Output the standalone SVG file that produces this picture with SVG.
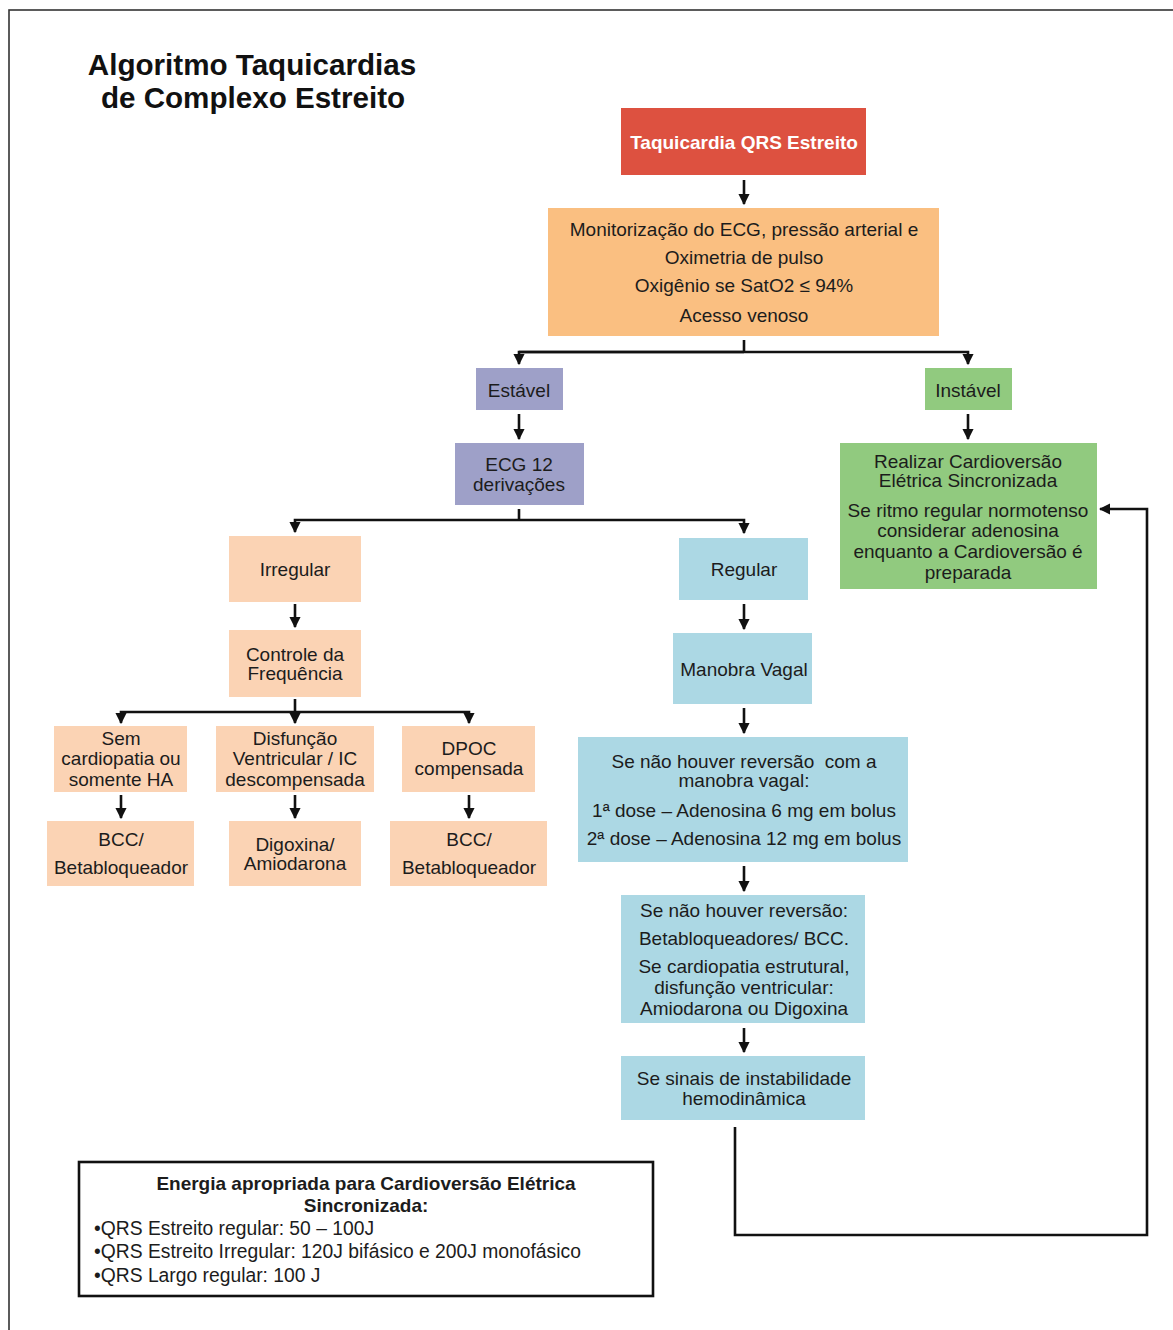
<svg xmlns="http://www.w3.org/2000/svg" width="1173" height="1330" viewBox="0 0 1173 1330">
  <style>
    text { font-family: "Liberation Sans", Arial, sans-serif; font-size: 19px; fill: #1c1c1c; text-anchor: middle; }
    .title { font-size: 29.6px; font-weight: bold; fill: #111; }
    .white { fill: #ffffff; font-weight: bold; }
    .bold { font-weight: bold; }
    .left { text-anchor: start; font-size: 19.3px; }
    .red { fill: #dd5140; }
    .orange { fill: #fabf81; }
    .lav { fill: #9ea0c8; }
    .green { fill: #91ca7f; }
    .peach { fill: #fbd3b4; }
    .blue { fill: #acd8e4; }
    .wire { fill: none; stroke: #111; stroke-width: 2.6; }
    .arrow { fill: none; stroke: #111; stroke-width: 2.6; marker-end: url(#head); }
  </style>
  <defs>
    <marker id="head" viewBox="0 0 10 10" refX="9" refY="5" markerWidth="4.4" markerHeight="4.4" orient="auto" markerUnits="strokeWidth">
      <path d="M0,0 L10,5 L0,10 Z" fill="#111"/>
    </marker>
  </defs>

  <rect x="0" y="0" width="1173" height="1330" fill="#ffffff"/>
  <!-- page frame -->
  <rect x="9" y="10" width="1180" height="1340" fill="none" stroke="#333" stroke-width="1.6"/>

  <g id="title">
    <text class="title" x="252" y="75">Algoritmo Taquicardias</text>
    <text class="title" x="253" y="108">de Complexo Estreito</text>
  </g>

  <g id="connectors">
    <line class="arrow" x1="744" y1="180" x2="744" y2="204"/>
    <polyline class="wire" points="744,340 744,352"/>
    <polyline class="arrow" points="519,352 968,352 968,364"/>
    <polyline class="arrow" points="744,352 519,352 519,364"/>
    <line class="arrow" x1="519" y1="414" x2="519" y2="439"/>
    <line class="arrow" x1="968" y1="414" x2="968" y2="439"/>
    <polyline class="wire" points="519,509 519,520"/>
    <polyline class="arrow" points="519,520 295,520 295,532"/>
    <polyline class="arrow" points="519,520 744,520 744,533"/>
    <line class="arrow" x1="295" y1="604" x2="295" y2="627"/>
    <line class="arrow" x1="744" y1="604" x2="744" y2="629"/>
    <line class="wire" x1="295" y1="699" x2="295" y2="712"/>
    <polyline class="arrow" points="295,712 121,712 121,723"/>
    <polyline class="arrow" points="295,712 469,712 469,723"/>
    <line class="arrow" x1="295" y1="712" x2="295" y2="723"/>
    <line class="arrow" x1="121" y1="795" x2="121" y2="818"/>
    <line class="arrow" x1="295" y1="795" x2="295" y2="818"/>
    <line class="arrow" x1="469" y1="795" x2="469" y2="818"/>
    <line class="arrow" x1="744" y1="708" x2="744" y2="733"/>
    <line class="arrow" x1="744" y1="866" x2="744" y2="891"/>
    <line class="arrow" x1="744" y1="1028" x2="744" y2="1052"/>
    <polyline class="arrow" points="735,1127 735,1235 1147,1235 1147,509 1100,509"/>
  </g>

  <g id="n-taquicardia">
    <rect class="red" x="621" y="108" width="245" height="67"/>
    <text class="white" x="744" y="149">Taquicardia QRS Estreito</text>
  </g>

  <g id="n-monitorizacao">
    <rect class="orange" x="548" y="208" width="391" height="128"/>
    <text x="744" y="236">Monitorização do ECG, pressão arterial e</text>
    <text x="744" y="264">Oximetria de pulso</text>
    <text x="744" y="292">Oxigênio se SatO2 ≤ 94%</text>
    <text x="744" y="322">Acesso venoso</text>
  </g>

  <g id="n-estavel">
    <rect class="lav" x="476" y="368" width="87" height="42"/>
    <text x="519" y="397">Estável</text>
  </g>

  <g id="n-instavel">
    <rect class="green" x="925" y="368" width="87" height="42"/>
    <text x="968" y="397">Instável</text>
  </g>

  <g id="n-ecg">
    <rect class="lav" x="455" y="443" width="129" height="62"/>
    <text x="519" y="471">ECG 12</text>
    <text x="519" y="491">derivações</text>
  </g>

  <g id="n-cardioversao">
    <rect class="green" x="840" y="443" width="257" height="146"/>
    <text x="968" y="468">Realizar Cardioversão</text>
    <text x="968" y="487">Elétrica Sincronizada</text>
    <text x="968" y="517">Se ritmo regular normotenso</text>
    <text x="968" y="537">considerar adenosina</text>
    <text x="968" y="558">enquanto a Cardioversão é</text>
    <text x="968" y="579">preparada</text>
  </g>

  <g id="n-irregular">
    <rect class="peach" x="229" y="536" width="132" height="66"/>
    <text x="295" y="576">Irregular</text>
  </g>

  <g id="n-regular">
    <rect class="blue" x="679" y="538" width="129" height="62"/>
    <text x="744" y="576">Regular</text>
  </g>

  <g id="n-controle">
    <rect class="peach" x="229" y="630" width="132" height="67"/>
    <text x="295" y="661">Controle da</text>
    <text x="295" y="680">Frequência</text>
  </g>

  <g id="n-sem-cardiopatia">
    <rect class="peach" x="54" y="726" width="133" height="66"/>
    <text x="121" y="745">Sem</text>
    <text x="121" y="765">cardiopatia ou</text>
    <text x="121" y="786">somente HA</text>
  </g>

  <g id="n-disfuncao">
    <rect class="peach" x="216" y="726" width="158" height="66"/>
    <text x="295" y="745">Disfunção</text>
    <text x="295" y="765">Ventricular / IC</text>
    <text x="295" y="786">descompensada</text>
  </g>

  <g id="n-dpoc">
    <rect class="peach" x="402" y="726" width="133" height="66"/>
    <text x="469" y="755">DPOC</text>
    <text x="469" y="775">compensada</text>
  </g>

  <g id="n-bcc-1">
    <rect class="peach" x="47" y="821" width="147" height="65"/>
    <text x="121" y="846">BCC/</text>
    <text x="121" y="874">Betabloqueador</text>
  </g>

  <g id="n-digoxina">
    <rect class="peach" x="229" y="821" width="132" height="65"/>
    <text x="295" y="851">Digoxina/</text>
    <text x="295" y="870">Amiodarona</text>
  </g>

  <g id="n-bcc-2">
    <rect class="peach" x="390" y="821" width="157" height="65"/>
    <text x="469" y="846">BCC/</text>
    <text x="469" y="874">Betabloqueador</text>
  </g>

  <g id="n-manobra">
    <rect class="blue" x="673" y="633" width="139" height="71"/>
    <text x="744" y="676">Manobra Vagal</text>
  </g>

  <g id="n-adenosina">
    <rect class="blue" x="578" y="737" width="330" height="125"/>
    <text x="744" y="768" xml:space="preserve">Se não houver reversão  com a</text>
    <text x="744" y="787">manobra vagal:</text>
    <text x="744" y="817">1ª dose – Adenosina 6 mg em bolus</text>
    <text x="744" y="845">2ª dose – Adenosina 12 mg em bolus</text>
  </g>

  <g id="n-sem-reversao">
    <rect class="blue" x="621" y="895" width="244" height="128"/>
    <text x="744" y="917">Se não houver reversão:</text>
    <text x="744" y="945">Betabloqueadores/ BCC.</text>
    <text x="744" y="973">Se cardiopatia estrutural,</text>
    <text x="744" y="994">disfunção ventricular:</text>
    <text x="744" y="1015">Amiodarona ou Digoxina</text>
  </g>

  <g id="n-instabilidade">
    <rect class="blue" x="621" y="1056" width="244" height="64"/>
    <text x="744" y="1085">Se sinais de instabilidade</text>
    <text x="744" y="1105">hemodinâmica</text>
  </g>

  <g id="legend">
    <rect x="79" y="1162" width="574" height="134" fill="#ffffff" stroke="#111" stroke-width="2.6"/>
    <text class="bold" x="366" y="1190">Energia apropriada para Cardioversão Elétrica</text>
    <text class="bold" x="366" y="1212">Sincronizada:</text>
    <text class="left" x="94" y="1235">•QRS Estreito regular: 50 – 100J</text>
    <text class="left" x="94" y="1258">•QRS Estreito Irregular: 120J bifásico e 200J monofásico</text>
    <text class="left" x="94" y="1282">•QRS Largo regular: 100 J</text>
  </g>
</svg>
